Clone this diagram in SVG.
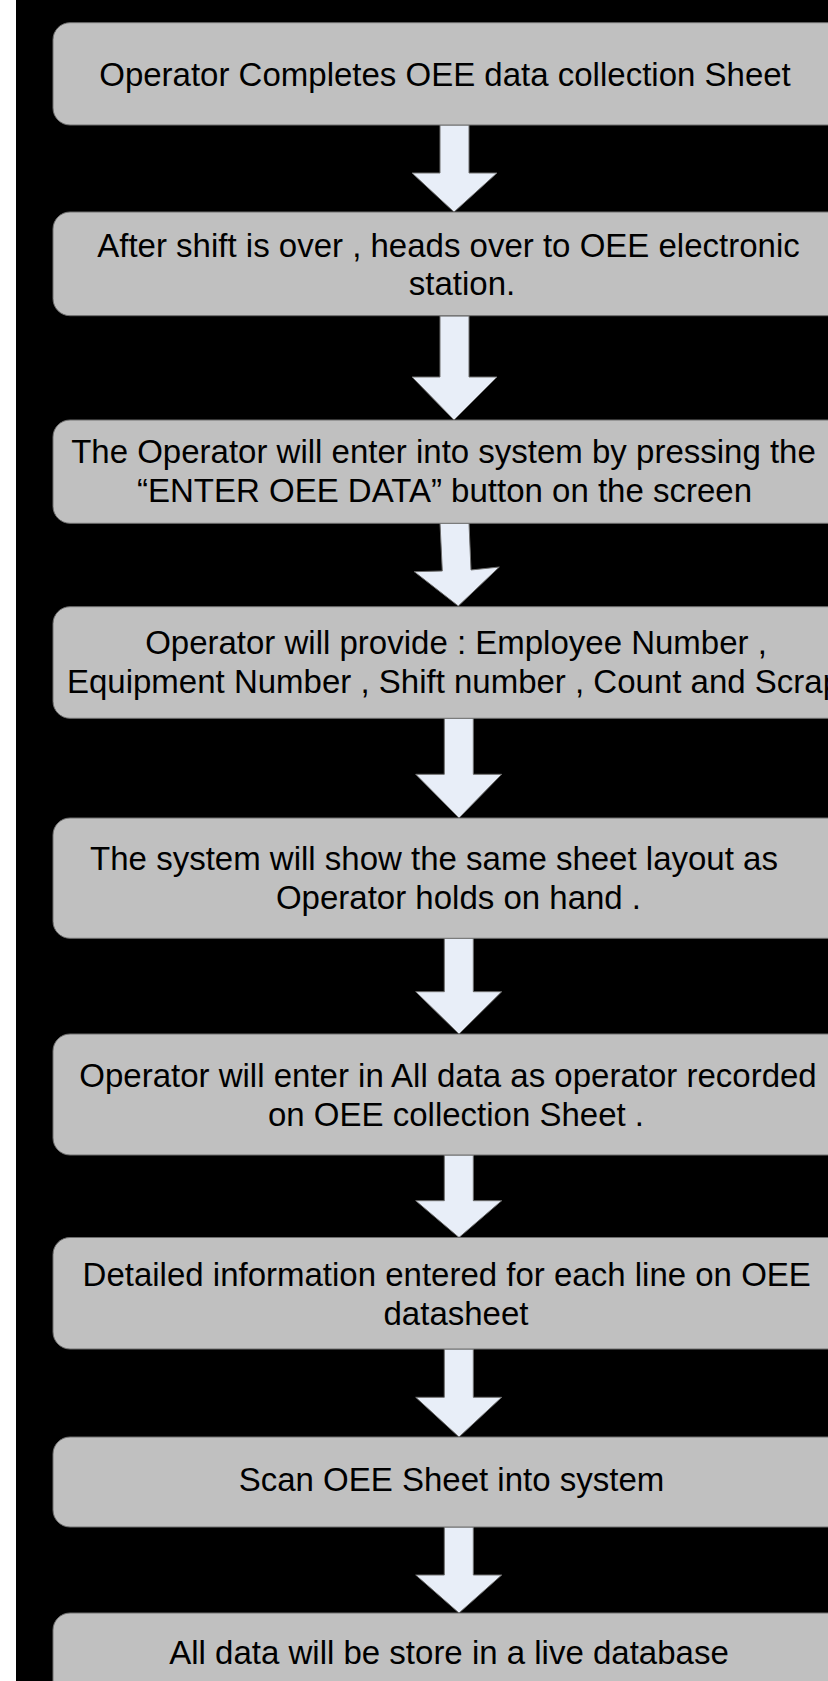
<svg xmlns="http://www.w3.org/2000/svg" width="828" height="1681" viewBox="0 0 828 1681">
<style>
.box{fill:#c0c0c0;stroke:#6e6e6e;stroke-width:1}
.arr{fill:#e8eef8;stroke:#6e6e6e;stroke-width:1;stroke-linejoin:miter}
text{font-family:"Liberation Sans",Arial,sans-serif;font-size:33px;fill:#000;text-anchor:middle}
</style>
<rect x="0" y="0" width="828" height="1681" fill="#ffffff"/>
<rect x="16" y="0" width="812" height="1681" fill="#000000"/>
<g id="connectors">
<polygon class="arr" points="440,125 469,125 469,173 497,173 454,212 412,173 440,173"/>
<polygon class="arr" points="440,316 469,316 469,377 497,377 454,420 412,377 440,377"/>
<polygon class="arr" points="440,523 469,523 471,570 499.3,567 458.3,606 414.3,571.7 442.3,571"/>
<polygon class="arr" points="444.3,718 473.3,718 473.3,774.3 501.7,774.3 459,818 415.7,774.3 444.3,774.3"/>
<polygon class="arr" points="444.3,938 473.3,938 473.3,991.7 501.7,991.7 459,1034 415.7,991.7 444.3,991.7"/>
<polygon class="arr" points="444.3,1155 473.3,1155 473.3,1200.7 501.7,1200.7 459,1237.5 415.7,1200.7 444.3,1200.7"/>
<polygon class="arr" points="444.3,1349 473.3,1349 473.3,1397.3 501.7,1397.3 459,1437 415.7,1397.3 444.3,1397.3"/>
<polygon class="arr" points="444.3,1527 473.3,1527 473.3,1575 501.7,1575 459,1613 415.7,1575 444.3,1575"/>
</g>
<g id="n1"><rect class="box" x="53" y="22.7" width="800" height="102.3" rx="17"/><text x="445" y="85.5">Operator Completes OEE data collection Sheet</text></g>
<g id="n2"><rect class="box" x="53" y="212" width="800" height="103.7" rx="17"/><text x="448.5" y="256.5">After shift is over , heads over to OEE electronic</text><text x="462" y="295">station.</text></g>
<g id="n3"><rect class="box" x="53" y="420" width="800" height="103.3" rx="17"/><text x="443.5" y="462.5">The Operator will enter into system by pressing the</text><text x="444.5" y="501.5">“ENTER OEE DATA” button on the screen</text></g>
<g id="n4"><rect class="box" x="53" y="606.7" width="800" height="111.6" rx="17"/><text x="456" y="654">Operator will provide : Employee Number ,</text><text x="454" y="693">Equipment Number , Shift number , Count and Scrap</text></g>
<g id="n5"><rect class="box" x="53" y="818" width="800" height="120.3" rx="17"/><text x="434" y="870">The system will show the same sheet layout as</text><text x="458.5" y="909">Operator holds on hand .</text></g>
<g id="n6"><rect class="box" x="53" y="1034" width="800" height="121" rx="17"/><text x="448" y="1087">Operator will enter in All data as operator recorded</text><text x="456" y="1126">on OEE collection Sheet .</text></g>
<g id="n7"><rect class="box" x="53" y="1237.5" width="800" height="111.5" rx="17"/><text x="446.7" y="1285.5">Detailed information entered for each line on OEE</text><text x="456" y="1324.5">datasheet</text></g>
<g id="n8"><rect class="box" x="53" y="1437" width="800" height="90" rx="17"/><text x="451.5" y="1491">Scan OEE Sheet into system</text></g>
<g id="n9"><rect class="box" x="53" y="1613" width="800" height="100" rx="17"/><text x="449" y="1664">All data will be store in a live database</text></g>
</svg>
